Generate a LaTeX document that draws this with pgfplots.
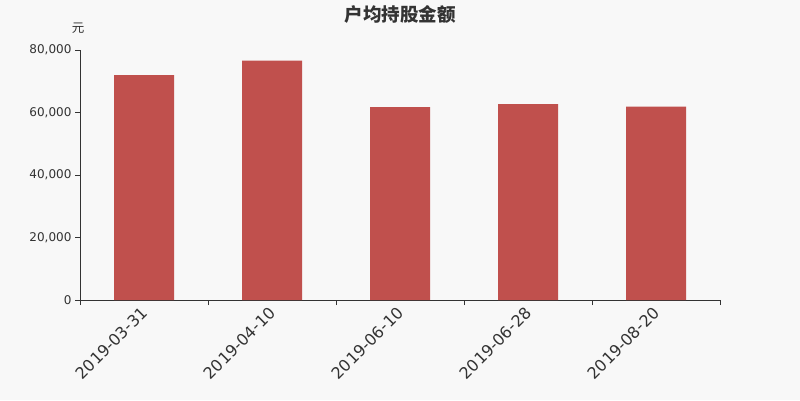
\documentclass[border=0pt]{standalone}
\usepackage{pgfplots}
\pgfplotsset{compat=1.18}
\usepackage{fontspec}
\setmainfont{DejaVu Sans}
\newfontfamily\cjk{Noto Sans CJK SC}
\definecolor{bg}{HTML}{F8F8F8}
\definecolor{barred}{HTML}{C0504D}
\definecolor{txt}{HTML}{333333}

\begin{document}
\begin{tikzpicture}
\path[use as bounding box, fill=bg] (0,0) rectangle (800pt,400pt);
\node[font=\cjk\bfseries\fontsize{18.5}{20}\selectfont, text=txt] at (400pt,386pt) {户均持股金额};
\node[font=\cjk\fontsize{12.5}{14}\selectfont, text=txt] at (78pt,372pt) {元};
\begin{axis}[
    at={(80pt,100pt)}, anchor=south west,
    scale only axis,
    width=640pt, height=250pt,
    ybar, bar width=60pt,
    xmin=-0.5, xmax=4.5,
    ymin=0, ymax=80000,
    axis x line*=bottom, axis y line*=left,
    axis line style={txt, line width=0.8pt, -},
    xtick={0,1,2,3,4},
    xticklabels={2019-03-31,2019-04-10,2019-06-10,2019-06-28,2019-08-20},
    minor xtick={-0.5,0.5,1.5,2.5,3.5,4.5},
    ytick={0,20000,40000,60000,80000},
    tick align=outside,
    major tick length=5pt, minor tick length=5pt,
    xtick style={draw=none},
    minor x tick style={draw=txt, line width=0.8pt},
    ytick style={draw=txt, line width=0.8pt},
    xticklabel style={rotate=45, anchor=east, font=\fontsize{16}{18}\selectfont, text=txt, yshift=-4pt, xshift=0pt},
    yticklabel style={font=\fontsize{12}{14}\selectfont, text=txt},
    /pgf/number format/assume math mode=true,
    /pgf/number format/1000 sep={,},
    scaled y ticks=false,
]
\addplot[fill=barred, draw=none] coordinates {(0,72000) (1,76600) (2,61700) (3,62700) (4,61900)};
\end{axis}
\end{tikzpicture}
\end{document}
